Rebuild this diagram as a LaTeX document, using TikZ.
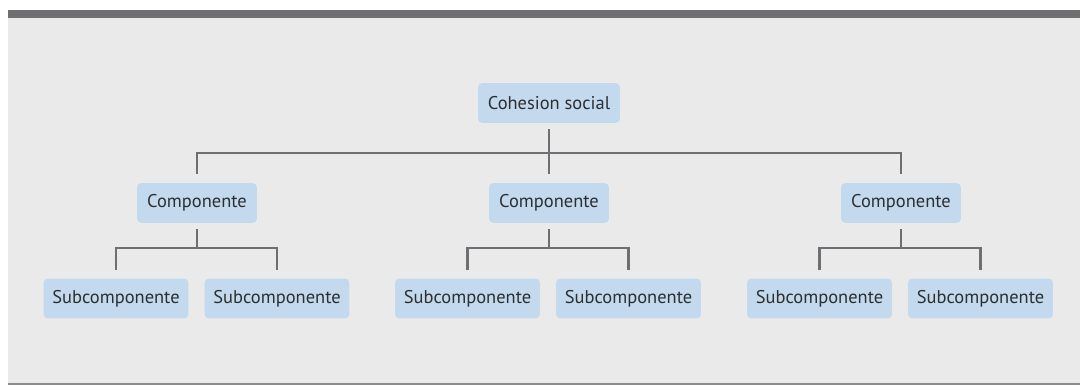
\documentclass[tikz,border=0pt]{standalone}
\usepackage{fontspec}
\setmainfont{PT Sans}
\definecolor{boxblue}{HTML}{C3DAEE}
\definecolor{linegray}{HTML}{6F6E73}
\definecolor{panelgray}{HTML}{EAEAEA}
\definecolor{textgray}{HTML}{2E2E30}
\begin{document}
\begin{tikzpicture}[x=0.02cm,y=-0.02cm,
    box/.style={fill=boxblue,rounded corners=2.5pt,minimum height=0.8cm,
      inner sep=0pt,text=textgray,font=\fontsize{10.5}{12}\selectfont},
    rootbox/.style={box,minimum width=2.84cm},
    compbox/.style={box,minimum width=2.4cm},
    subbox/.style={box,minimum width=2.9cm},
    link/.style={draw=linegray,line width=1.2pt}]
  \useasboundingbox (0,0) rectangle (1080,385);
  % panel
  \fill[panelgray] (8,18) rectangle (1080,383);
  \fill[linegray] (8,10) rectangle (1080,18);
  \fill[linegray!80] (8,383) rectangle (1080,385);
  % boxes
  \draw
    (549,103) node[rootbox] (root){Cohesion social}
    (197,203) node[compbox] (c1){Componente}
    (549,203) node[compbox] (c2){Componente}
    (901,203) node[compbox] (c3){Componente}
    (116,298.5) node[subbox] (s11){Subcomponente}
    (277,298.5) node[subbox] (s12){Subcomponente}
    (467.5,298.5) node[subbox] (s21){Subcomponente}
    (628.5,298.5) node[subbox] (s22){Subcomponente}
    (819.5,298.5) node[subbox] (s31){Subcomponente}
    (980.5,298.5) node[subbox] (s32){Subcomponente};
  \coordinate (bar0) at (549,153);
  \coordinate (bar1) at (197,248);
  \coordinate (bar2) at (549,248);
  \coordinate (bar3) at (901,248);
  \begin{scope}[link]
    \draw[shorten <=0.12cm] (root.south) -- (bar0);
    \draw[shorten <=0.18cm,shorten >=0.18cm] (c1.north) |- (bar0) -| (c3.north);
    \draw[shorten >=0.18cm] (bar0) -- (c2.north);
    \draw[shorten <=0.12cm] (c1.south) -- (bar1);
    \draw[shorten <=0.12cm] (c2.south) -- (bar2);
    \draw[shorten <=0.12cm] (c3.south) -- (bar3);
    \draw[shorten <=0.16cm,shorten >=0.16cm] (s11.north) |- (bar1) -| (s12.north);
    \draw[shorten <=0.16cm,shorten >=0.16cm] (s21.north) |- (bar2) -| (s22.north);
    \draw[shorten <=0.16cm,shorten >=0.16cm] (s31.north) |- (bar3) -| (s32.north);
  \end{scope}
\end{tikzpicture}
\end{document}
